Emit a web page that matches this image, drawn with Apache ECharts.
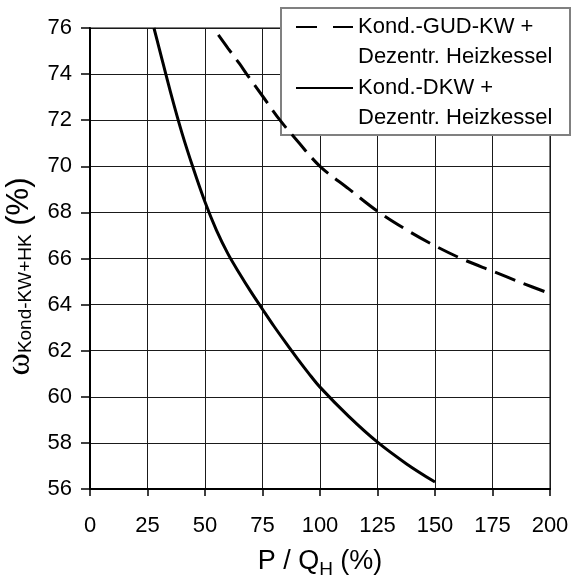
<!DOCTYPE html>
<html>
<head>
<meta charset="utf-8">
<script src="https://cdn.jsdelivr.net/npm/echarts@6/dist/echarts.min.js"></script>
<style>
  html, body { margin: 0; padding: 0; background: #fff; }
  #chart { width: 571px; height: 576px; }
</style>
</head>
<body>
<div id="chart"></div>
<script>
// Power-to-heat ratio P/Q_H (%) and efficiency (%) for the two reference systems
const gudX = [55.8, 60, 65, 68.1, 75, 82.6, 90, 100, 112.5, 125, 137.5, 150, 162.5, 175, 187.5, 200];
const gudY = [75.7, 75.12, 74.45, 74.0, 73.05, 72.0, 71.12, 70.0, 69.02, 68.05, 67.25, 66.55, 65.95, 65.45, 64.95, 64.48];

const dkwX = [27.8, 30, 35, 40, 45, 50, 55, 60, 65, 70, 75, 80, 85, 90, 95, 100, 112.5, 125, 137.5, 150];
const dkwY = [76.0, 75.15, 73.22, 71.44, 69.88, 68.45, 67.22, 66.2, 65.35, 64.55, 63.8, 63.06, 62.36, 61.68, 61.03, 60.42, 59.15, 58.03, 57.1, 56.3];

const seriesNames = ['Kond.-GUD-KW +\nDezentr. Heizkessel', 'Kond.-DKW +\nDezentr. Heizkessel'];
const xTicks = [0, 25, 50, 75, 100, 125, 150, 175, 200];
const yTicks = [56, 58, 60, 62, 64, 66, 68, 70, 72, 74, 76];

const pairs = (xs, ys) => xs.map((x, i) => [x, ys[i]]);
const FONT = '"Liberation Sans", Arial, sans-serif';

const chart = echarts.init(document.getElementById('chart'));
chart.setOption({
  animation: false,
  backgroundColor: '#fff',
  grid: {
    left: 90, right: 21, top: 28, bottom: 87,
    outerBoundsMode: 'none',
    show: true, borderColor: '#808080', borderWidth: 2, backgroundColor: 'transparent'
  },
  graphic: [{
    type: 'rect', z: 3,
    shape: { x: 281, y: 8, width: 289, height: 127 },
    style: { fill: '#fff', stroke: '#808080', lineWidth: 2 }
  }],
  legend: {
    z: 4,
    orient: 'vertical',
    left: 295, top: 12, padding: 0,
    itemWidth: 57, itemHeight: 14, itemGap: 1,
    selectedMode: false,
    itemStyle: { opacity: 0 },
    data: [
      { name: seriesNames[0], lineStyle: { type: [21, 16] } },
      { name: seriesNames[1] }
    ],
    // first line of each entry sits level with its line sample, second line below
    formatter: name => {
      const parts = name.split('\n');
      return '{a|' + parts[0] + '}\n{b|' + parts[1] + '}';
    },
    textStyle: {
      rich: {
        a: { fontFamily: FONT, fontSize: 22, color: '#000', height: 30, lineHeight: 31, verticalAlign: 'bottom' },
        b: { fontFamily: FONT, fontSize: 22, color: '#000', height: 30, lineHeight: 1, verticalAlign: 'top' }
      }
    }
  },
  xAxis: {
    type: 'value', min: xTicks[0], max: xTicks[xTicks.length - 1], interval: 25,
    name: '{a|P / Q}{s|H}{a| (%)}',
    nameLocation: 'middle', nameGap: 56,
    nameTextStyle: {
      rich: {
        a: { fontFamily: FONT, fontSize: 27, color: '#000', lineHeight: 34 },
        s: { fontFamily: FONT, fontSize: 19, color: '#000', lineHeight: 19, verticalAlign: 'bottom' }
      }
    },
    axisLine: { show: true, onZero: false, lineStyle: { color: '#000', width: 2 } },
    axisTick: { show: true, length: 7, lineStyle: { color: '#000', width: 1.5 } },
    axisLabel: { fontFamily: FONT, fontSize: 22, color: '#000', margin: 26 },
    splitLine: { show: true, lineStyle: { color: '#1a1a1a', width: 1 } }
  },
  yAxis: {
    type: 'value', min: yTicks[0], max: yTicks[yTicks.length - 1], interval: 2,
    name: '{w|ω}{s|Kond-KW+HK}{a| (%)}',
    nameLocation: 'middle', nameGap: 48, nameRotate: 90,
    nameTextStyle: {
      padding: [0, 36, 0, 0],
      rich: {
        w: { fontFamily: '"Liberation Serif", serif', fontSize: 34, color: '#000', lineHeight: 32 },
        a: { fontFamily: FONT, fontSize: 31, color: '#000', lineHeight: 32 },
        s: { fontFamily: FONT, fontSize: 19, color: '#000', lineHeight: 19, verticalAlign: 'bottom' }
      }
    },
    axisLine: { show: true, onZero: false, lineStyle: { color: '#000', width: 2 } },
    axisTick: { show: true, length: 9, lineStyle: { color: '#000', width: 1.5 } },
    axisLabel: { fontFamily: FONT, fontSize: 22, color: '#000', margin: 18 },
    splitLine: { show: true, lineStyle: { color: '#1a1a1a', width: 1 } }
  },
  series: [
    {
      name: seriesNames[0], type: 'line', data: pairs(gudX, gudY),
      showSymbol: false, symbol: 'none', smooth: 0.35,
      lineStyle: { color: '#000', width: 3, type: [22, 9] },
      itemStyle: { color: '#000' }
    },
    {
      name: seriesNames[1], type: 'line', data: pairs(dkwX, dkwY),
      showSymbol: false, symbol: 'none', smooth: 0.35,
      lineStyle: { color: '#000', width: 3 },
      itemStyle: { color: '#000' }
    }
  ]
});
</script>
</body>
</html>
